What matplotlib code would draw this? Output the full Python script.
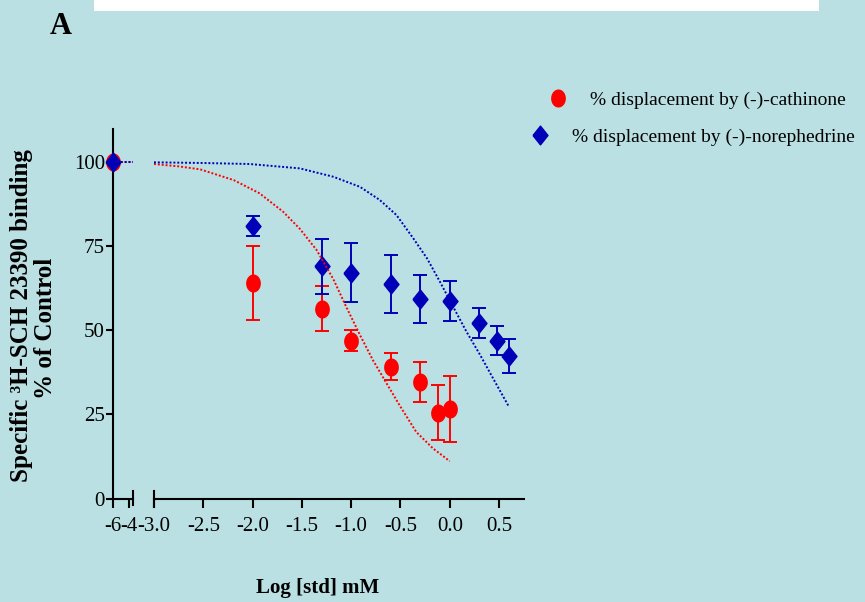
import matplotlib
matplotlib.use("Agg")
import matplotlib.pyplot as plt
from matplotlib.patches import Rectangle
from matplotlib.lines import Line2D
import numpy as np

plt.rcParams['font.family'] = ['Liberation Serif', 'DejaVu Serif']
plt.rcParams['axes.unicode_minus'] = False

# measured points, x = log [std] mM
cat_x = [-2.0, -1.3, -1.0, -0.6, -0.3, -0.12, 0.0]
cat_y = [64.0, 56.5, 47.0, 39.2, 34.6, 25.5, 26.6]
cat_err = [11.0, 6.6, 3.1, 4.0, 5.9, 8.2, 9.7]

nor_x = [-2.0, -1.3, -1.0, -0.6, -0.3, 0.0, 0.3, 0.48, 0.6]
nor_y = [81.0, 69.1, 67.2, 63.8, 59.4, 58.7, 52.2, 47.0, 42.4]
nor_err = [3.0, 8.2, 8.7, 8.65, 7.2, 5.9, 4.55, 4.4, 4.95]

# control point sits on the left piece of the broken axis
ctrl_x = [-6.0]
ctrl_y = [100.0]

# fitted curves
cat_fit_x = [-3.0, -2.75, -2.53, -2.19, -1.93, -1.69, -1.52, -1.35, -1.18,
             -1.05, -0.91, -0.78, -0.64, -0.5, -0.34, -0.17, 0.0]
cat_fit_y = [99.5, 98.8, 97.9, 94.7, 90.8, 85.3, 80.2, 73.9, 65.2,
             57.0, 48.6, 41.2, 34.2, 27.3, 19.8, 14.9, 11.1]
nor_fit_x = [-3.0, -2.5, -2.03, -1.52, -1.18, -0.91, -0.71, -0.54, -0.37,
             -0.23, -0.10, 0.035, 0.17, 0.31, 0.44, 0.6]
nor_fit_y = [100.0, 99.8, 99.5, 98.2, 95.7, 92.7, 88.8, 84.3, 77.4,
             71.4, 64.5, 57.0, 49.6, 42.6, 35.7, 27.3]
left_fit_x = [-6.0, -3.5]
left_fit_y = [100.0, 100.0]

right_ticks = [-3.0, -2.5, -2.0, -1.5, -1.0, -0.5, 0.0, 0.5]
left_ticks = [-6, -4]
y_ticks = [0, 25, 50, 75, 100]

bg = '#BAE0E3'
red = '#FF0000'
blue = '#0000B8'

# ellipse and diamond marker shapes (the original is squashed sideways)
t = np.linspace(0, 2 * np.pi, 40)
ellipse = list(zip(0.8 * np.cos(t), np.sin(t)))
diamond = [(-0.8, 0), (0, 1), (0.8, 0), (0, -1), (-0.8, 0)]

fig = plt.figure(figsize=(8.65, 6.02), dpi=100)
fig.patch.set_facecolor(bg)

# white strip at the top edge
fig.patches.append(Rectangle((0.1087, 0.9817), 0.838, 0.02, transform=fig.transFigure,
                             facecolor='white', edgecolor='none'))

bottom, height = 0.1719, 0.6143
axL = fig.add_axes([0.1310, bottom, 0.02312, height])
axR = fig.add_axes([0.1780, bottom, 0.4279, height])

for ax in (axL, axR):
    ax.set_facecolor('none')
    ax.set_ylim(0, 110)
    ax.spines['top'].set_visible(False)
    ax.spines['right'].set_visible(False)
    ax.spines['bottom'].set_linewidth(1.5)
    ax.spines['left'].set_linewidth(1.5)
    ax.tick_params(axis='x', direction='out', length=6.5, width=1.5, pad=7, labelsize=15)

axL.set_xlim(-6, -3.5)
axL.set_xticks(left_ticks)
axL.set_xticklabels([str(v) for v in left_ticks])
axL.set_yticks(y_ticks)
axL.set_yticklabels([str(v) for v in y_ticks])
axL.tick_params(axis='y', direction='out', length=5, width=1.5, pad=1, labelsize=15)

axR.set_xlim(-3.0, 0.754)
axR.set_xticks(right_ticks)
axR.set_xticklabels(['%.1f' % v for v in right_ticks])
axR.spines['left'].set_visible(False)
axR.set_yticks([])

# break marks
axL.plot([1, 1], [-0.018, 0.02], transform=axL.transAxes, color='black', lw=1.5, clip_on=False)
axR.plot([0, 0], [-0.024, 0.02], transform=axR.transAxes, color='black', lw=1.5, clip_on=False)

# control point
axL.plot(ctrl_x, ctrl_y, linestyle='none', marker=ellipse, ms=12, color=red, clip_on=False, zorder=3)
axL.plot(ctrl_x, ctrl_y, linestyle='none', marker=diamond, ms=13.5, color=blue, clip_on=False, zorder=4)
axL.plot(left_fit_x, left_fit_y, color=red, ls=(0, (1, 1)), lw=1.4, clip_on=False, zorder=5)
axL.plot(left_fit_x, left_fit_y, color=blue, ls=(0, (1, 1)), lw=1.4, clip_on=False, zorder=5)

# data with error bars
axR.errorbar(cat_x, cat_y, yerr=cat_err, fmt='none', ecolor=red, elinewidth=1.4,
             capsize=4.7, capthick=1.4, zorder=2)
axR.plot(cat_x, cat_y, linestyle='none', marker=ellipse, ms=12, color=red, zorder=3)
axR.errorbar(nor_x, nor_y, yerr=nor_err, fmt='none', ecolor=blue, elinewidth=1.4,
             capsize=4.7, capthick=1.4, zorder=2)
axR.plot(nor_x, nor_y, linestyle='none', marker=diamond, ms=13.5, color=blue, zorder=4)

# fitted curves
axR.plot(cat_fit_x, cat_fit_y, color=red, ls=(0, (1, 1)), lw=1.4, zorder=5)
axR.plot(nor_fit_x, nor_fit_y, color=blue, ls=(0, (1, 1)), lw=1.4, zorder=5)

# legend (two rows, each centred on its own)
h1 = Line2D([], [], linestyle='none', marker=ellipse, ms=12, color=red)
h2 = Line2D([], [], linestyle='none', marker=diamond, ms=13.5, color=blue)
leg_kw = dict(frameon=False, fontsize=14, handlelength=1, handletextpad=1.15,
              borderpad=0, borderaxespad=0, loc='center left')
fig.legend([h1], ['% displacement by (-)-cathinone'], bbox_to_anchor=(0.6339, 0.8339), **leg_kw)
fig.legend([h2], ['% displacement by (-)-norephedrine'], bbox_to_anchor=(0.6131, 0.7724), **leg_kw)

# labels
fig.text(318 / 865, 1 - 588 / 602, 'Log [std] mM', ha='center', va='center',
         fontsize=15, fontweight='bold')
fig.text(22 / 865, 1 - 316 / 602, 'Specific ³H-SCH 23390 binding', rotation=90,
         ha='center', va='center', fontsize=18, fontweight='bold')
fig.text(45 / 865, 1 - 328 / 602, '% of Control', rotation=90,
         ha='center', va='center', fontsize=18, fontweight='bold')
fig.text(61 / 865, 1 - 27 / 602, 'A', ha='center', va='center', fontsize=22, fontweight='bold')

fig.savefig('out.png', dpi=100, facecolor=bg)
